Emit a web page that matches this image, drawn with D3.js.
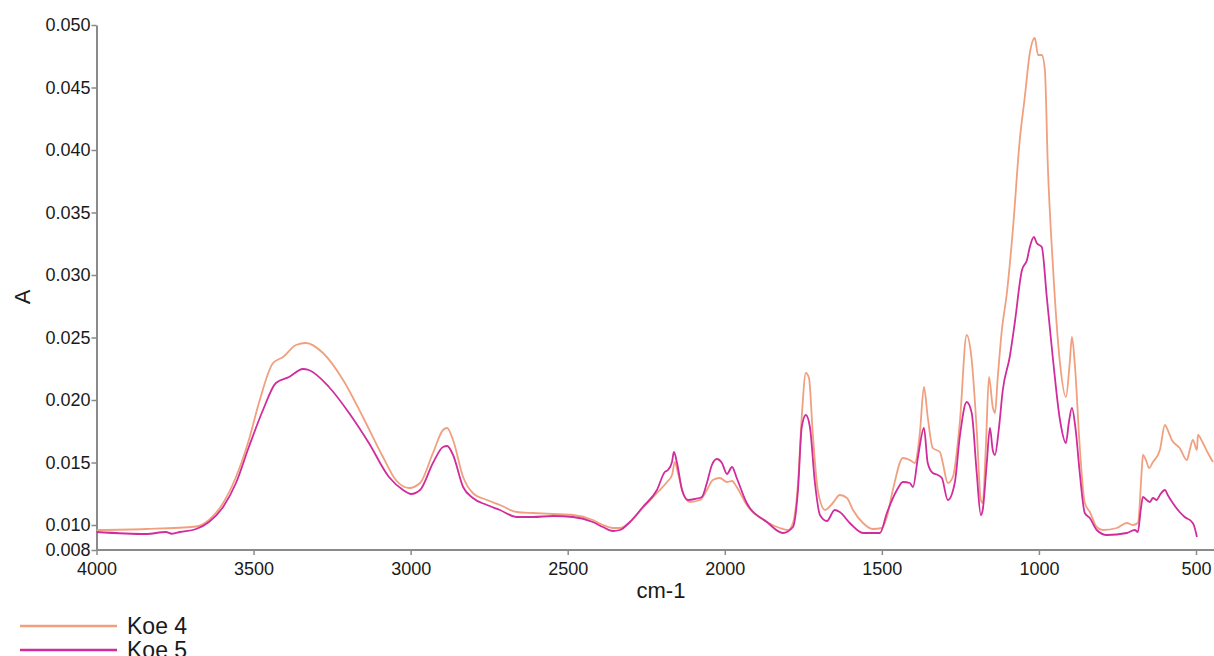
<!DOCTYPE html>
<html>
<head>
<meta charset="utf-8">
<script src="https://cdn.jsdelivr.net/npm/d3@7"></script>
<style>
  html, body { margin: 0; padding: 0; background: #fff; overflow: hidden; }
  svg { display: block; }
</style>
</head>
<body>
<div id="chart"></div>
<script>
// wavenumbers (cm-1) and absorbance
const koe4Wn = [4000, 3842, 3683, 3642, 3597, 3556, 3515, 3483, 3438, 3406, 3365, 3333, 3279, 3215, 3152, 3088, 3047, 3005,
  2970, 2929, 2897, 2884, 2865, 2833, 2802, 2757, 2716, 2662, 2611, 2547, 2483, 2420, 2388, 2356, 2334, 2302, 2261, 2216,
  2184, 2168, 2159, 2149, 2133, 2111, 2079, 2057, 2038, 2016, 1993, 1977, 1962, 1930, 1866, 1825, 1799, 1783, 1767, 1755,
  1742, 1732, 1720, 1704, 1681, 1656, 1634, 1611, 1592, 1560, 1529, 1500, 1484, 1465, 1433, 1411, 1395, 1379, 1366, 1354,
  1338, 1315, 1306, 1290, 1274, 1252, 1230, 1214, 1198, 1185, 1179, 1169, 1159, 1147, 1140, 1131, 1118, 1102, 1083, 1061,
  1045, 1029, 1013, 1003, 991, 981, 972, 956, 933, 914, 902, 895, 886, 870, 854, 838, 816, 797, 752, 720, 701, 685, 672,
  669, 657, 650, 637, 615, 599, 590, 577, 552, 529, 520, 510, 497, 494, 478, 462, 446];
const koe4A = [0.0096, 0.00968, 0.00988, 0.0104, 0.01176, 0.01384, 0.0168, 0.01976, 0.02296, 0.02344, 0.0244, 0.02456, 0.02376,
  0.0216, 0.01864, 0.01544, 0.0136, 0.01296, 0.01336, 0.01576, 0.0176, 0.01776, 0.0168, 0.01384, 0.01256, 0.012, 0.0116,
  0.01104, 0.01096, 0.01088, 0.0108, 0.0104, 0.01, 0.00976, 0.00976, 0.01024, 0.01136, 0.01256, 0.01344, 0.014, 0.01504,
  0.01416, 0.01256, 0.01184, 0.012, 0.0128, 0.0136, 0.01376, 0.01344, 0.01352, 0.01304, 0.0116, 0.01024, 0.00976, 0.0096,
  0.01016, 0.01336, 0.01864, 0.02216, 0.02176, 0.01736, 0.0128, 0.0112, 0.01176, 0.0124, 0.01216, 0.0112, 0.01016, 0.00968,
  0.00976, 0.01064, 0.0128, 0.01536, 0.0152, 0.01496, 0.01736, 0.02104, 0.01864, 0.01616, 0.01584, 0.01496, 0.01336, 0.01384,
  0.01816, 0.0252, 0.0232, 0.0176, 0.012, 0.01176, 0.01624, 0.02184, 0.01944, 0.01896, 0.02184, 0.0256, 0.02856, 0.0336,
  0.0408, 0.04424, 0.04776, 0.04896, 0.0476, 0.0476, 0.0464, 0.03896, 0.03096, 0.02296, 0.02024, 0.02296, 0.02504, 0.02296,
  0.01624, 0.01176, 0.01104, 0.00984, 0.0096, 0.00976, 0.01016, 0.01, 0.01016, 0.01464, 0.0156, 0.01504, 0.01456, 0.01504,
  0.016, 0.018, 0.0176, 0.0168, 0.01616, 0.0152, 0.016, 0.0168, 0.016, 0.0172, 0.01656, 0.01576, 0.01504];

const koe5Wn = [4000, 3842, 3779, 3760, 3734, 3683, 3642, 3597, 3556, 3515, 3470, 3429, 3387, 3343, 3324, 3260, 3196, 3133,
  3069, 3024, 2999, 2970, 2929, 2897, 2884, 2865, 2833, 2802, 2757, 2716, 2662, 2611, 2547, 2483, 2420, 2388, 2356, 2334,
  2302, 2261, 2216, 2191, 2181, 2168, 2162, 2152, 2136, 2117, 2095, 2073, 2057, 2041, 2025, 2009, 1993, 1977, 1962, 1930,
  1866, 1815, 1783, 1767, 1755, 1742, 1729, 1713, 1697, 1675, 1650, 1634, 1602, 1560, 1506, 1484, 1452, 1433, 1411, 1401,
  1385, 1366, 1354, 1338, 1322, 1309, 1290, 1268, 1252, 1230, 1214, 1198, 1185, 1179, 1166, 1156, 1147, 1140, 1128, 1115,
  1093, 1077, 1054, 1038, 1029, 1016, 1007, 991, 975, 956, 933, 914, 905, 895, 883, 870, 854, 838, 816, 784, 720, 695,
  685, 676, 669, 657, 647, 637, 625, 615, 599, 590, 574, 552, 536, 513, 507, 497];
const koe5A = [0.00944, 0.00928, 0.00944, 0.0093, 0.00944, 0.00968, 0.01024, 0.01144, 0.01336, 0.01624, 0.0192, 0.02136,
  0.02184, 0.02248, 0.0224, 0.02104, 0.01896, 0.01656, 0.01384, 0.0128, 0.01248, 0.0128, 0.01496, 0.01624, 0.01632, 0.0156,
  0.01304, 0.01216, 0.0116, 0.0112, 0.01064, 0.01064, 0.01072, 0.01064, 0.01024, 0.00984, 0.00952, 0.0096, 0.01024, 0.01144,
  0.0128, 0.01424, 0.0144, 0.01504, 0.01584, 0.01496, 0.0128, 0.012, 0.01208, 0.01224, 0.01336, 0.0148, 0.01528, 0.01496,
  0.01408, 0.01464, 0.01376, 0.01176, 0.01024, 0.00936, 0.00984, 0.0128, 0.01784, 0.0188, 0.01784, 0.01336, 0.0108, 0.01032,
  0.0112, 0.01104, 0.01016, 0.00936, 0.00936, 0.01096, 0.0128, 0.01344, 0.01336, 0.01304, 0.01544, 0.01776, 0.01496, 0.01416,
  0.014, 0.01376, 0.012, 0.01336, 0.01704, 0.01984, 0.01896, 0.01416, 0.0108, 0.0112, 0.01496, 0.01776, 0.016, 0.0156,
  0.0176, 0.0208, 0.02344, 0.02616, 0.0304, 0.0312, 0.03224, 0.03304, 0.03256, 0.03224, 0.02824, 0.02344, 0.0184, 0.01656,
  0.01816, 0.01936, 0.0176, 0.01416, 0.01096, 0.01056, 0.0096, 0.0092, 0.00936, 0.0096, 0.00944, 0.0112, 0.01224, 0.012,
  0.01184, 0.01216, 0.012, 0.0124, 0.0128, 0.0124, 0.01176, 0.01104, 0.01064, 0.01024, 0.01, 0.00904];

const seriesNames = ["Koe 4", "Koe 5"];
const seriesColors = ["#f0a07f", "#d02c9c"];
const xTicks = [4000, 3500, 3000, 2500, 2000, 1500, 1000, 500];
const yTicks = [0.008, 0.010, 0.015, 0.020, 0.025, 0.030, 0.035, 0.040, 0.045, 0.050];

const W = 1214, H = 656;
const margin = {top: 25, left: 96.5, bottom: 106};

const svg = d3.select('#chart')
  .append("svg")
    .attr("width", W)
    .attr("height", H);

// x runs right to left (wavenumber), 500 cm-1 sits at x=1196
const x = d3.scaleLinear()
  .domain([4000, 500])
  .range([margin.left, 1196]);
const y = d3.scaleLinear()
  .domain([0.008, 0.050])
  .range([H - margin.bottom, margin.top]);

const font = "'Liberation Sans', Arial, sans-serif";

// X axis (runs to the edge of the window)
const xAxis = svg.append("g")
  .attr("transform", `translate(0, ${y(0.008)})`)
  .call(d3.axisBottom(x).tickValues(xTicks).tickFormat(d3.format("d")).tickSize(5).tickSizeOuter(0));
xAxis.select(".domain").attr("d", `M${margin.left},0H${W + 10}`);

// Y axis
const yAxis = svg.append("g")
  .attr("transform", `translate(${margin.left}, 0)`)
  .call(d3.axisLeft(y).tickValues(yTicks).tickFormat(d3.format(".3f")).tickSize(5).tickSizeOuter(0));

[xAxis, yAxis].forEach(function(g) {
  g.select(".domain").attr("stroke", "#8a8a8a").attr("stroke-width", 2);
  g.selectAll(".tick line").attr("stroke", "#8a8a8a").attr("stroke-width", 1.5);
  g.selectAll(".tick text")
    .attr("fill", "#1a1a1a")
    .style("font-family", font)
    .style("font-size", "18px");
});
xAxis.selectAll(".tick text").attr("dy", "0.95em");
yAxis.selectAll(".tick text").attr("x", -6);

// Axis titles
svg.append("text")
  .attr("x", 661)
  .attr("y", 598)
  .attr("text-anchor", "middle")
  .attr("fill", "#1a1a1a")
  .style("font-family", font)
  .style("font-size", "22px")
  .text("cm-1");

svg.append("text")
  .attr("transform", "translate(30, 297) rotate(-90)")
  .attr("text-anchor", "middle")
  .attr("fill", "#1a1a1a")
  .style("font-family", font)
  .style("font-size", "22px")
  .text("A");

// Spectra
svg.append("clipPath").attr("id", "plot-clip")
  .append("rect")
    .attr("x", margin.left)
    .attr("y", 0)
    .attr("width", W - margin.left)
    .attr("height", y(0.008));

const line = d3.line()
  .curve(d3.curveMonotoneX)
  .x(function(d) { return x(d[0]); })
  .y(function(d) { return y(d[1]); });

const series = [
  d3.zip(koe4Wn, koe4A),
  d3.zip(koe5Wn, koe5A)
];

series.forEach(function(data, i) {
  svg.append("path")
    .datum(data)
    .attr("clip-path", "url(#plot-clip)")
    .attr("fill", "none")
    .attr("stroke", seriesColors[i])
    .attr("stroke-width", 1.8)
    .attr("stroke-linejoin", "round")
    .attr("d", line);
});

// Legend
const legend = svg.append("g");
seriesNames.forEach(function(name, i) {
  const ly = 626 + i * 24;
  legend.append("line")
    .attr("x1", 20).attr("x2", 117)
    .attr("y1", ly).attr("y2", ly)
    .attr("stroke", seriesColors[i])
    .attr("stroke-width", 2.5);
  legend.append("text")
    .attr("x", 127)
    .attr("y", ly + 8)
    .attr("fill", "#1a1a1a")
    .style("font-family", font)
    .style("font-size", "23px")
    .text(name);
});
</script>
</body>
</html>
